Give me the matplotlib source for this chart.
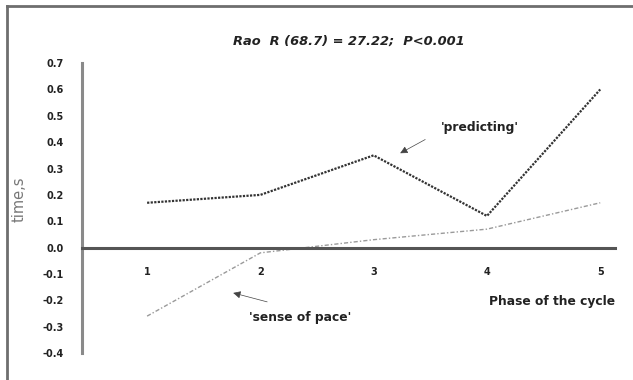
import numpy as np
import matplotlib.pyplot as plt
from matplotlib.lines import Line2D

phase = [1, 2, 3, 4, 5]
predicting = [0.17, 0.20, 0.35, 0.12, 0.60]
sense_of_pace = [-0.26, -0.02, 0.03, 0.07, 0.17]
yticks = [0.7, 0.6, 0.5, 0.4, 0.3, 0.2, 0.1, 0.0, -0.1, -0.2, -0.3, -0.4]

plt.rcParams['font.family'] = 'DejaVu Sans'

fig = plt.figure(figsize=(6.33, 3.8), dpi=100)
ax = fig.add_axes([0.1295, 0.071, 0.842, 0.763])

# frame around the picture (top and left only visible)
fig.add_artist(Line2D([7/633, 7/633], [0, 1 - 6/380], transform=fig.transFigure, color='#6e6e6e', lw=2))
fig.add_artist(Line2D([7/633, 1], [1 - 6/380, 1 - 6/380], transform=fig.transFigure, color='#6e6e6e', lw=2))

ax.plot(phase, predicting, color='#333333', ls=(0, (1, 0.6)), lw=1.6)
ax.plot(phase, sense_of_pace, color='#9a9a9a', ls=(0, (3, 1.5, 1, 1.5)), lw=1.0)

ax.set_xlim(0.425, 5.13)
ax.set_ylim(-0.4, 0.7)

for s in ['top', 'right']:
    ax.spines[s].set_visible(False)
ax.spines['bottom'].set_position(('data', 0))
ax.spines['bottom'].set_color('#555555')
ax.spines['bottom'].set_linewidth(2.2)
ax.spines['left'].set_color('#8a8a8a')
ax.spines['left'].set_linewidth(2.2)

ax.set_xticks(phase)
ax.set_xticklabels([str(p) for p in phase])
ax.set_yticks(yticks)
ax.set_yticklabels(['%.1f' % v for v in yticks])
ax.tick_params(axis='x', length=0, pad=14, labelsize=7, labelcolor='#222222')
ax.tick_params(axis='y', length=0, pad=13, labelsize=7, labelcolor='#222222')
for lab in ax.get_xticklabels() + ax.get_yticklabels():
    lab.set_fontweight('bold')

ax.set_ylabel('time,s', fontsize=10.5, color='#777777')
ax.yaxis.set_label_coords(-0.103, 0.53)

ax.set_title('Rao  R (68.7) = 27.22;  P<0.001', fontsize=9.4, fontweight='bold',
             style='italic', color='#222222', pad=13)

ax.text(4.576, -0.203, 'Phase of the cycle', fontsize=8.8, fontweight='bold',
        ha='center', va='center', color='#222222')

ax.text(3.94, 0.457, "'predicting'", fontsize=8.8, fontweight='bold',
        ha='center', va='center', color='#222222')
ax.annotate('', xy=(3.234, 0.358), xytext=(3.455, 0.41),
            arrowprops=dict(arrowstyle='-|>', color='#444444', lw=0.5,
                            shrinkA=0, shrinkB=0, mutation_scale=11))

ax.text(2.35, -0.267, "'sense of pace'", fontsize=8.8, fontweight='bold',
        ha='center', va='center', color='#222222')
ax.annotate('', xy=(1.76, -0.172), xytext=(2.06, -0.206),
            arrowprops=dict(arrowstyle='-|>', color='#444444', lw=0.5,
                            shrinkA=0, shrinkB=0, mutation_scale=11))

fig.savefig('out.png', dpi=100)
